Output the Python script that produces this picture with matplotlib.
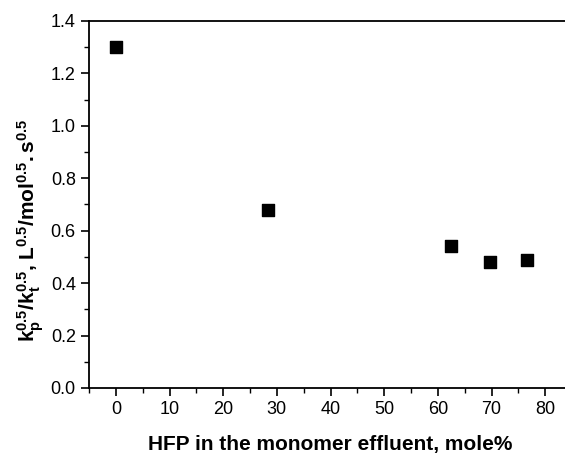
import matplotlib
matplotlib.use("Agg")
import matplotlib.pyplot as plt
from matplotlib.ticker import MultipleLocator

# HFP content in monomer effluent (mole%) vs kp/kt^0.5
hfp = [0, 28.3, 62.5, 69.7, 76.6]
kp_kt = [1.30, 0.68, 0.54, 0.48, 0.49]

plt.rcParams['font.family'] = ['Liberation Sans', 'DejaVu Sans']
plt.rcParams['mathtext.fontset'] = 'custom'
plt.rcParams['mathtext.rm'] = 'Liberation Sans'
plt.rcParams['mathtext.bf'] = 'Liberation Sans:bold'
plt.rcParams['mathtext.it'] = 'Liberation Sans:italic'

fig = plt.figure(figsize=(5.65, 4.75), dpi=100)
# right spine falls outside the picture, as in the cropped original
ax = fig.add_axes([89 / 565, 1 - 388 / 475, (572 - 89) / 565, (388 - 21) / 475])

ax.scatter(hfp, kp_kt, marker='s', s=75, c='black', edgecolors='black', zorder=3, clip_on=False)

ax.set_xlim(-5, 85)
ax.set_ylim(0, 1.4)
ax.xaxis.set_major_locator(MultipleLocator(10))
ax.xaxis.set_minor_locator(MultipleLocator(5))
ax.yaxis.set_major_locator(MultipleLocator(0.2))
ax.yaxis.set_minor_locator(MultipleLocator(0.1))
ax.yaxis.set_major_formatter(matplotlib.ticker.FormatStrFormatter('%.1f'))

ax.tick_params(which='major', direction='out', length=6, width=1.2, labelsize=13, top=False, right=False)
ax.tick_params(which='minor', direction='out', length=3.5, width=1.0, top=False, right=False)
for sp in ax.spines.values():
    sp.set_linewidth(1.3)

ax.set_xlabel('HFP in the monomer effluent, mole%', fontsize=15, fontweight='bold', labelpad=12)
ax.set_ylabel(r'$\mathbf{k_p^{0.5}/k_t^{0.5}}$, $\mathbf{L^{0.5}/mol^{0.5}.s^{0.5}}$',
              fontsize=15, fontweight='bold')
ax.yaxis.set_label_coords(-0.09, 0.43)

fig.savefig('out.png', dpi=100)
